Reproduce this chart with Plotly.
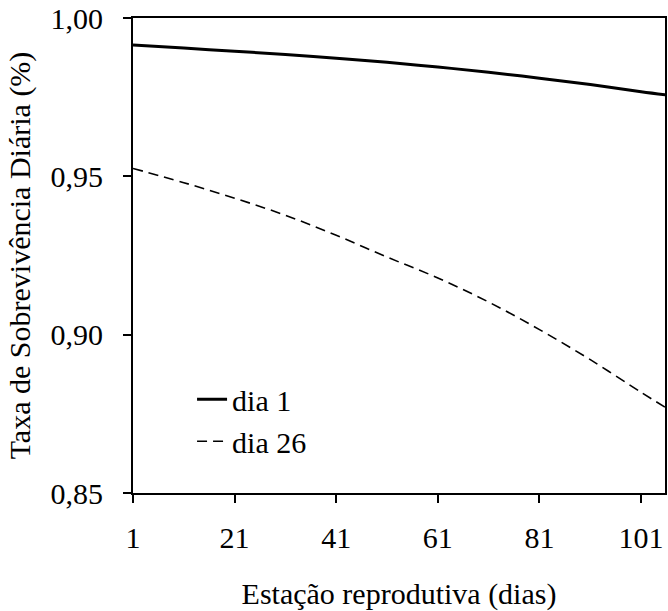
import plotly.graph_objects as go

days = [1, 11, 21, 31, 41, 51, 61, 71, 81, 91, 101, 106]
dia1 = [0.9915, 0.9905, 0.9895, 0.9885, 0.9873, 0.9860, 0.9845, 0.9829, 0.9810, 0.9790, 0.9767, 0.9757]
dia26 = [0.9525, 0.9480, 0.9431, 0.9377, 0.9314, 0.9245, 0.9179, 0.9103, 0.9016, 0.8921, 0.8818, 0.8768]
x_ticks = [1, 21, 41, 61, 81, 101]
y_ticks = [0.85, 0.90, 0.95, 1.00]

FONT = "'Times New Roman', 'Liberation Serif', serif"
FS = 30

fig = go.Figure()
fig.add_trace(go.Scatter(x=days, y=dia1, mode="lines", name="dia 1",
                         line=dict(color="black", width=3, shape="spline")))
fig.add_trace(go.Scatter(x=days, y=dia26, mode="lines", name="dia 26",
                         line=dict(color="black", width=1.6, dash="10px,6px", shape="spline")))

fig.update_layout(
    width=668, height=611,
    margin=dict(l=133, r=1, t=17, b=118),
    paper_bgcolor="white", plot_bgcolor="white",
    separators=",.",
    font=dict(family=FONT, size=FS, color="black"),
    showlegend=True,
    legend=dict(x=0.111, y=0.252, xanchor="left", yanchor="top",
                bgcolor="rgba(0,0,0,0)", font=dict(family=FONT, size=FS), tracegroupgap=0),
    xaxis=dict(range=[1, 105.7], tickvals=x_ticks, ticks="outside", ticklen=8,
               tickwidth=1.5, tickcolor="black", showline=True, linecolor="black",
               linewidth=2, mirror=True, showgrid=False, zeroline=False,
               ticklabelstandoff=9, tickfont=dict(family=FONT, size=FS),
               title=dict(text="Estação reprodutiva (dias)", standoff=31,
                          font=dict(family=FONT, size=FS))),
    yaxis=dict(range=[0.85, 1.0], tickvals=y_ticks, tickformat=".2f", ticks="outside",
               ticklen=8, tickwidth=1.5, tickcolor="black", showline=True,
               linecolor="black", linewidth=2, mirror=True, showgrid=False,
               zeroline=False, ticklabelstandoff=14, tickfont=dict(family=FONT, size=FS),
               title=dict(text="Taxa de Sobrevivência Diária (%)", standoff=11,
                          font=dict(family=FONT, size=FS))),
)

fig.write_html("out.html", config={"displayModeBar": False},
               post_script="document.body.style.margin='0';")
